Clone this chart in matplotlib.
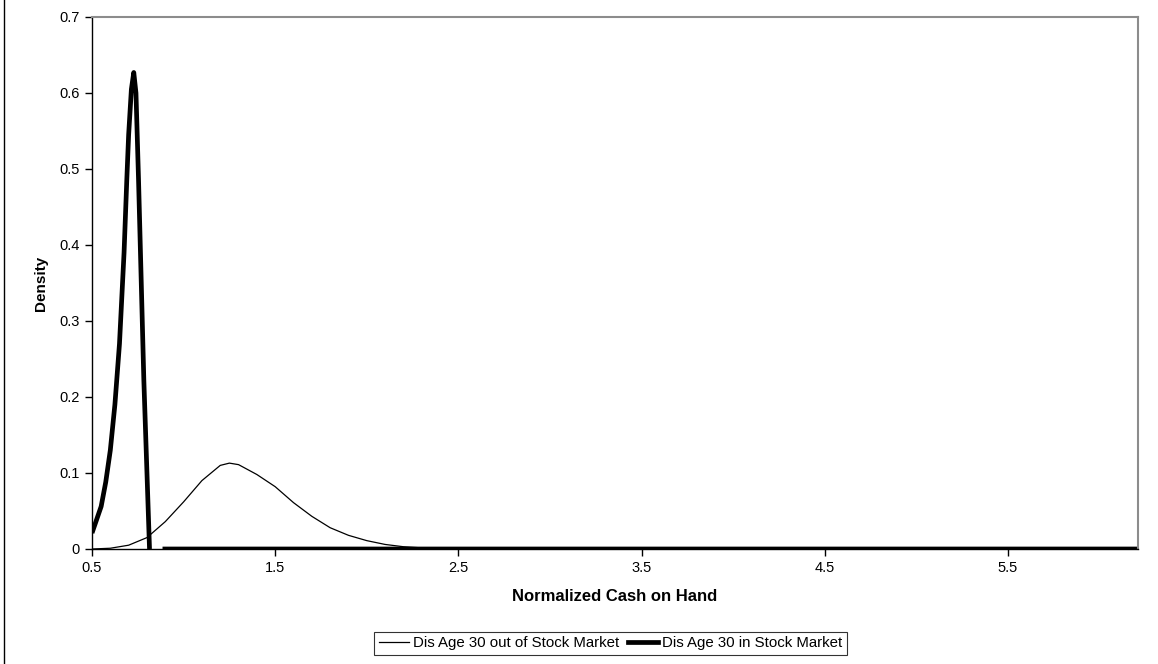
import numpy as np
import matplotlib.pyplot as plt
from matplotlib.lines import Line2D

plt.rcParams['font.family'] = ['Liberation Sans', 'DejaVu Sans']

# Density of normalized cash on hand, agent age 30, outside the stock market
out_x = [0.5, 0.6, 0.7, 0.8, 0.9, 1.0, 1.1, 1.2, 1.25, 1.3, 1.4, 1.5, 1.6, 1.7,
         1.8, 1.9, 2.0, 2.1, 2.2, 2.3, 2.4, 2.5, 3.0, 4.0, 5.0, 6.21]
out_y = [0.0, 0.001, 0.005, 0.015, 0.036, 0.062, 0.090, 0.110, 0.113, 0.111,
         0.098, 0.082, 0.061, 0.043, 0.028, 0.018, 0.011, 0.006, 0.003, 0.0015,
         0.0007, 0.0003, 0.0, 0.0, 0.0, 0.0]

# Same age, participating in the stock market (no value reported around 0.85)
in_x = [0.5, 0.55, 0.575, 0.6, 0.625, 0.65, 0.675, 0.69, 0.70, 0.715, 0.728,
        0.74, 0.754, 0.783, 0.814, 0.85, 0.885, 2.0, 4.0, 6.21]
in_y = [0.021, 0.056, 0.088, 0.130, 0.190, 0.270, 0.390, 0.486, 0.545, 0.605,
        0.627, 0.600, 0.486, 0.222, 0.0, np.nan, 0.0, 0.0, 0.0, 0.0]

x_ticks = [0.5, 1.5, 2.5, 3.5, 4.5, 5.5]
y_ticks = [0, 0.1, 0.2, 0.3, 0.4, 0.5, 0.6, 0.7]
series_names = ['Dis Age 30 out of Stock Market', 'Dis Age 30 in Stock Market']

W, H = 1158, 664
fig = plt.figure(figsize=(W / 100, H / 100), dpi=100)
ax = fig.add_axes([92 / W, 1 - 549 / H, (1138 - 92) / W, (549 - 17) / H])

ax.plot(out_x, out_y, color='black', lw=0.9, solid_joinstyle='round')
ax.plot(in_x, in_y, color='black', lw=3.4, solid_joinstyle='round',
        solid_capstyle='butt')

ax.set_xlim(0.5, 6.21)
ax.set_ylim(0, 0.7)
ax.set_xticks(x_ticks)
ax.set_xticklabels([f'{v:g}' for v in x_ticks])
ax.set_yticks(y_ticks)
ax.set_yticklabels([f'{v:g}' for v in y_ticks])
ax.tick_params(direction='out', length=5, width=1, labelsize=10.5, pad=4)

for side in ['top', 'right']:
    ax.spines[side].set_color('#8c8c8c')
    ax.spines[side].set_linewidth(1.5)
for side in ['left', 'bottom']:
    ax.spines[side].set_color('black')
    ax.spines[side].set_linewidth(1.0)

ax.set_xlabel('Normalized Cash on Hand', fontsize=12, fontweight='bold', labelpad=10)
ax.set_ylabel('Density', fontsize=11, fontweight='bold', labelpad=8)

handles = [Line2D([], [], color='black', lw=0.9),
           Line2D([], [], color='black', lw=3.4)]
leg = fig.legend(handles, series_names,
                 loc='upper left', bbox_to_anchor=(374 / W, 1 - 632 / H), ncol=2,
                 fontsize=10.8, frameon=True, fancybox=False, handlelength=2.0,
                 handletextpad=0.27, columnspacing=0.6, borderpad=0.3,
                 borderaxespad=0)
leg.get_frame().set_edgecolor('black')
leg.get_frame().set_linewidth(0.8)

# chart border on the left edge
fig.add_artist(Line2D([4 / W, 4 / W], [0, 1], color='black', lw=1.0))

fig.savefig('out.png', dpi=100)
